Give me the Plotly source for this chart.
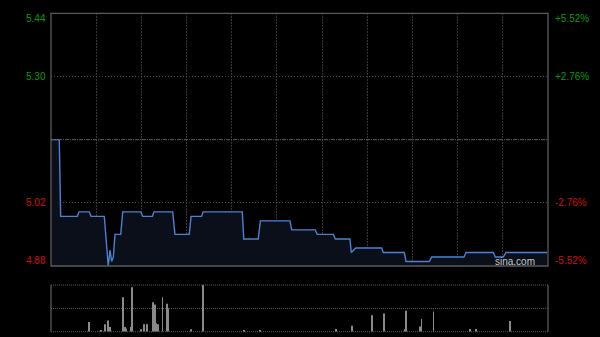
import plotly.graph_objects as go

# ---- data ----
# minutes since open (0..330, HK session 5.5h) and price at line breakpoints
price_t = [0, 5.5, 6.4, 17.5, 18.6, 25.4, 26.6, 35.4, 38, 39.2, 40.3, 41.4, 42.5, 46.3, 47.6,
           59.6, 60.9, 67.3, 68.4, 80.8, 82.3, 91.8, 93, 100, 101, 127, 128, 137.6, 139,
           158.7, 159.8, 175.5, 176.8, 187.5, 188.8, 198.5, 199.4, 202.3, 219.6, 220.6,
           234.6, 235.7, 251.2, 252.8, 274.2, 275.6, 293.7, 295, 300.3, 302.1, 329.4]
price_v = [5.16, 5.16, 4.99, 4.99, 5.00, 5.00, 4.99, 4.99, 4.88, 4.915, 4.89, 4.90, 4.95, 4.95, 5.00,
           5.00, 4.99, 4.99, 5.00, 5.00, 4.95, 4.95, 4.99, 4.99, 5.00, 5.00, 4.94, 4.94, 4.98,
           4.98, 4.96, 4.96, 4.95, 4.95, 4.94, 4.94, 4.91, 4.92, 4.92, 4.91,
           4.91, 4.89, 4.89, 4.90, 4.90, 4.91, 4.91, 4.90, 4.90, 4.91, 4.91]

vol_t = [25, 33, 36, 38, 39, 48, 49, 50, 53, 54, 60, 62, 64, 68, 69, 70, 71, 74, 77, 78,
         93, 101, 128, 139, 189, 200, 213, 221, 235, 236, 245, 246, 254, 278, 282, 305]
vol_v = [21000, 3000, 16000, 24000, 10000, 74000, 10000, 7000, 10000, 95000, 5000, 16000, 16000,
         63000, 58000, 18000, 16000, 74000, 60000, 50000,
         5000, 100000, 3000, 3000, 6000, 13000, 35000, 39000, 5000, 45000, 11000, 27000, 43000,
         6000, 6000, 23000]

prev_close = 5.16
left_ticks = [5.44, 5.30, 5.02, 4.88]
left_labels = ["5.44", "5.30", "5.02", "4.88"]
right_labels = ["+5.52%", "+2.76%", "-2.76%", "-5.52%"]

# ---- layout constants ----
W, H = 600, 337
x0, x1 = 51 / W, 548 / W
m_top, m_bot = 1 - 13.3 / H, 1 - 266 / H
v_top, v_bot = 1 - 285 / H, 1 - 331.7 / H
GREEN, RED = "#0f9a0f", "#d01010"
FONT = "Arial, Liberation Sans, sans-serif"

fig = go.Figure()
fig.add_trace(go.Scatter(x=price_t, y=price_v, mode="lines",
                         line=dict(color="#4b82d4", width=1.4),
                         fill="tozeroy", fillcolor="#0a0f19",
                         xaxis="x", yaxis="y", hoverinfo="skip"))
fig.add_trace(go.Bar(x=vol_t, y=vol_v, width=0.6, marker=dict(color="#8a8a8a", line=dict(width=0)),
                     xaxis="x2", yaxis="y2", hoverinfo="skip"))

grid_t = [30 * i for i in range(1, 11)]
fig.update_layout(
    width=W, height=H, margin=dict(l=0, r=0, t=0, b=0),
    paper_bgcolor="black", plot_bgcolor="black", showlegend=False,
    xaxis=dict(domain=[x0, x1], range=[0, 330], tickvals=grid_t, showticklabels=False,
               showgrid=True, gridcolor="#363636", griddash="2px,1px", gridwidth=1,
               zeroline=False, showline=False, ticks=""),
    yaxis=dict(domain=[m_bot, m_top], range=[4.88, 5.44], tickvals=[5.30, 5.02],
               showticklabels=False, showgrid=True, gridcolor="#4a4a4a", griddash="1px,2px",
               zeroline=False, showline=False, ticks=""),
    xaxis2=dict(domain=[x0, x1], range=[0, 330], anchor="y2", showticklabels=False,
                showgrid=False, zeroline=False, showline=False, ticks=""),
    yaxis2=dict(domain=[v_bot, v_top], range=[0, max(vol_v)], anchor="x2",
                tickvals=[max(vol_v) / 2], showticklabels=False,
                showgrid=True, gridcolor="#555555", griddash="1px,1px",
                zeroline=False, showline=False, ticks=""),
)

shapes = [
    # previous close line
    dict(type="line", xref="x", yref="y", x0=0, x1=330, y0=prev_close, y1=prev_close,
         line=dict(color="#5c5c5c", width=1, dash="4px,1px,1px,1px")),
    # main panel border
    dict(type="rect", xref="paper", yref="paper", x0=x0, x1=x1, y0=m_bot, y1=m_top,
         line=dict(color="#5a5a5a", width=1.3)),
    # volume panel borders
    dict(type="line", xref="paper", yref="paper", x0=x0, x1=x0, y0=v_bot, y1=v_top,
         line=dict(color="#5a5a5a", width=1.3)),
    dict(type="line", xref="paper", yref="paper", x0=x1, x1=x1, y0=v_bot, y1=v_top,
         line=dict(color="#5a5a5a", width=1.3)),
    dict(type="line", xref="paper", yref="paper", x0=x0, x1=x1, y0=v_top, y1=v_top,
         line=dict(color="#5a5a5a", width=1, dash="1px,1px")),
    dict(type="line", xref="paper", yref="paper", x0=x0, x1=x1, y0=v_bot, y1=v_bot,
         line=dict(color="#5a5a5a", width=1, dash="1px,1px")),
]
fig.update_layout(shapes=shapes)

shifts = [-5, 0, 0, 6]
colors = [GREEN, GREEN, RED, RED]
ann = []
for v, ll, rl, s, c in zip(left_ticks, left_labels, right_labels, shifts, colors):
    ann.append(dict(xref="paper", yref="y", x=47.8 / W, y=v, text=ll, showarrow=False,
                    xanchor="right", yanchor="middle", yshift=s,
                    font=dict(family=FONT, size=10, color=c)))
    ann.append(dict(xref="paper", yref="y", x=552.5 / W, y=v, text=rl, showarrow=False,
                    xanchor="left", yanchor="middle", yshift=s,
                    font=dict(family=FONT, size=10, color=c)))
ann.append(dict(xref="paper", yref="paper", x=537 / W, y=1 - 261 / H, text="sina.com",
                showarrow=False, xanchor="right", yanchor="middle",
                font=dict(family=FONT, size=10, color="#c8c8c8")))
fig.update_layout(annotations=ann)

fig.write_html("out.html")
